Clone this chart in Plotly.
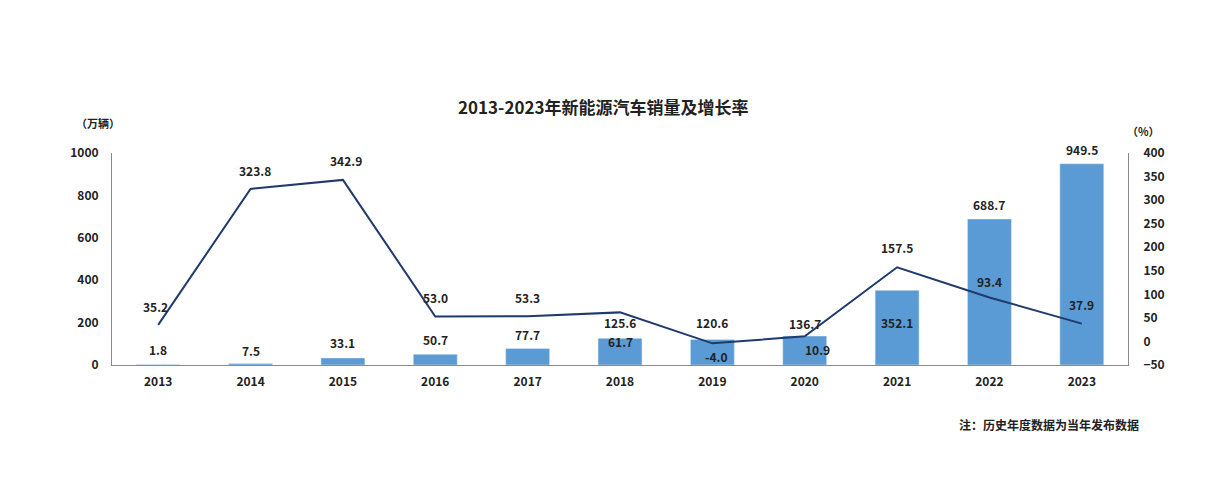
import plotly.graph_objects as go

years = ["2013", "2014", "2015", "2016", "2017", "2018", "2019", "2020", "2021", "2022", "2023"]
sales = [1.8, 7.5, 33.1, 50.7, 77.7, 125.6, 120.6, 136.7, 352.1, 688.7, 949.5]
growth = [35.2, 323.8, 342.9, 53.0, 53.3, 61.7, -4.0, 10.9, 157.5, 93.4, 37.9]

# label offsets in pixels (style only)
bar_yshift = [15, 13, 15, 15, 14, 16, 17, 13, -32, 15, 14]
line_yshift = [18, 18, 19, 19, 19, -29, -13, -13, 20, 16, 19]
line_xshift = [-3, 4, 3, 0, 0, 0, 4, 13, 0, 0, 0]

FONT = "Noto Sans CJK SC, Noto Sans, sans-serif"
BAR = "#5b9bd5"
LINE = "#1f3a6b"
W = 600

fig = go.Figure()
fig.add_trace(go.Bar(x=years, y=sales, marker_color=BAR, width=0.476, yaxis="y", name="销量"))
fig.add_trace(go.Scatter(x=years, y=growth, mode="lines", line=dict(color=LINE, width=2), yaxis="y2", name="增长率"))

for i, yr in enumerate(years):
    fig.add_annotation(x=i, y=sales[i], xref="x", yref="y", text=f"{sales[i]:.1f}", showarrow=False,
                       yshift=bar_yshift[i], font=dict(family=FONT, size=12, color="#222", weight=W))
    fig.add_annotation(x=i, y=growth[i], xref="x", yref="y2", text=f"{growth[i]:.1f}", showarrow=False,
                       yshift=line_yshift[i], xshift=line_xshift[i],
                       font=dict(family=FONT, size=12, color="#222", weight=W))

tf = dict(family=FONT, size=12, color="#222", weight=W)
fig.update_layout(
    width=1206, height=484,
    margin=dict(l=112, r=78, t=153, b=119, autoexpand=False),
    paper_bgcolor="white", plot_bgcolor="white",
    showlegend=False,
    font=dict(family=FONT, size=12, color="#333"),
    xaxis=dict(type="category", range=[-0.5, 10.5], showline=True, linecolor="#8a8a8a", linewidth=1, ticks="",
               showgrid=False, tickfont=tf, zeroline=False, ticklabelstandoff=6),
    yaxis=dict(range=[0, 1000], tickvals=[0, 200, 400, 600, 800, 1000], showline=True, linecolor="#8a8a8a",
               linewidth=1, showgrid=False, zeroline=False, tickfont=tf, ticklabelstandoff=10),
    yaxis2=dict(range=[-50, 400], tickvals=list(range(-50, 401, 50)), overlaying="y", side="right",
                showline=True, linecolor="#8a8a8a", linewidth=1, showgrid=False, zeroline=False,
                tickfont=tf, ticklabelstandoff=12),
)

def px(xp, yp):
    return (xp - 112) / (1206 - 112 - 78), (484 - 119 - yp) / (484 - 153 - 119)

x0, y0 = px(603, 107)
fig.add_annotation(x=x0, y=y0, xref="paper", yref="paper", text="<b>2013-2023年新能源汽车销量及增长率</b>",
                   showarrow=False, xanchor="center", yanchor="middle", font=dict(family=FONT, size=17, color="#222"))
ax, ay = px(98, 123)
fig.add_annotation(x=ax, y=ay, xref="paper", yref="paper", text="（万辆）", showarrow=False,
                   xanchor="center", yanchor="middle", font=dict(family=FONT, size=11, color="#222", weight=W))
bx, by = px(1143, 131)
fig.add_annotation(x=bx, y=by, xref="paper", yref="paper", text="（%）", showarrow=False,
                   xanchor="center", yanchor="middle", font=dict(family=FONT, size=11, color="#222", weight=W))
cx, cy = px(1141, 424)
fig.add_annotation(x=cx, y=cy, xref="paper", yref="paper", text="注：历史年度数据为当年发布数据", showarrow=False,
                   xanchor="right", yanchor="middle", font=dict(family=FONT, size=12, color="#222", weight=W))

fig.write_html("out.html")
